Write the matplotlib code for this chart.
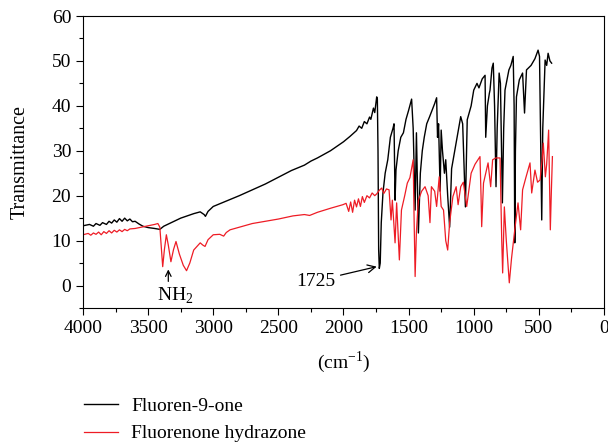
import numpy as np
import matplotlib
matplotlib.use("Agg")
import matplotlib.pyplot as plt
from matplotlib.ticker import MultipleLocator

plt.rcParams['font.family'] = ['Liberation Serif', 'DejaVu Serif']
plt.rcParams['mathtext.fontset'] = 'custom'
plt.rcParams['mathtext.rm'] = 'Liberation Serif'

# Fluoren-9-one (wavenumber, transmittance)
wn_ketone = [4000, 3950, 3920, 3900, 3870, 3850, 3820, 3800, 3780, 3760, 3740, 3720, 3700,
             3680, 3660, 3640, 3620, 3600, 3570, 3540, 3500, 3450, 3410, 3380, 3300, 3250,
             3150, 3100, 3070, 3060, 3040, 3000, 2800, 2600, 2400, 2300, 2250, 2200, 2100,
             2000, 1950, 1900, 1880, 1860, 1840, 1820, 1800, 1790, 1770, 1760, 1745, 1740,
             1735, 1730, 1725, 1718, 1710, 1697, 1680, 1660, 1640, 1620, 1612, 1604, 1597,
             1580, 1560, 1540, 1520, 1500, 1477, 1465, 1450, 1440, 1425, 1410, 1395, 1380,
             1361, 1340, 1320, 1300, 1285, 1278, 1270, 1258, 1250, 1240, 1225, 1215, 1200,
             1185, 1170, 1140, 1100, 1085, 1064, 1050, 1020, 1000, 975, 960, 935, 913, 908,
             895, 880, 875, 860, 850, 840, 829, 820, 805, 795, 780, 770, 760, 730, 715, 697,
             690, 685, 680, 672, 650, 625, 610, 595, 560, 530, 506, 495, 478, 470, 452, 440,
             429, 415, 402]
t_ketone = [13.3, 13.6, 13.2, 13.8, 13.4, 14.0, 13.6, 14.3, 13.9, 14.6, 14.1, 14.9, 14.3,
            15.0, 14.4, 14.8, 14.2, 14.3, 13.7, 13.2, 12.9, 12.7, 12.5, 13.2, 14.3, 15.0,
            16.0, 16.4, 15.8, 15.4, 16.5, 17.6, 20.0, 22.6, 25.6, 26.8, 27.7, 28.4, 30.0,
            32.0, 33.2, 34.5, 35.5, 35.0, 36.5, 36.0, 37.5, 37.0, 39.5, 38.5, 42.0, 41.5,
            30.0, 8.0, 3.8, 5.0, 14.0, 20.6, 25.0, 28.0, 33.0, 35.0, 36.0, 19.0, 25.7,
            30.0, 33.0, 34.0, 37.0, 39.0, 41.5, 35.0, 16.8, 34.0, 11.7, 25.0, 30.0, 33.0,
            36.0, 37.5, 39.0, 40.5, 41.8, 33.0, 36.0, 21.0, 34.6, 30.0, 25.0, 28.0, 20.0,
            13.0, 26.0, 31.0, 37.6, 36.0, 17.5, 36.9, 40.0, 43.5, 45.0, 44.0, 46.0, 46.8, 33.0,
            40.0, 42.8, 43.5, 48.4, 49.5, 40.0, 22.0, 35.0, 47.3, 45.0, 18.4, 35.0, 43.5, 48.0, 49.0, 51.0,
            40.0, 9.5, 30.0, 42.0, 45.8, 47.3, 38.4, 48.0, 49.0, 50.5, 52.4, 51.0, 14.6, 35.0, 50.2, 49.0,
            51.7, 50.0, 49.5]

# Fluorenone hydrazone
wn_hydrazone = [4000, 3960, 3940, 3920, 3900, 3880, 3860, 3840, 3820, 3800, 3780, 3760, 3740,
                3720, 3700, 3680, 3660, 3640, 3600, 3550, 3500, 3450, 3425, 3410, 3400, 3388,
                3375, 3360, 3345, 3325, 3305, 3286, 3260, 3230, 3205, 3180, 3150, 3100, 3080,
                3063, 3040, 3000, 2950, 2920, 2900, 2871, 2700, 2500, 2388, 2300, 2260, 2200,
                2100, 2004, 1980, 1960, 1945, 1930, 1915, 1900, 1885, 1870, 1855, 1840, 1820,
                1800, 1780, 1760, 1745, 1725, 1707, 1690, 1670, 1650, 1635, 1625, 1604, 1592,
                1571, 1555, 1530, 1510, 1490, 1465, 1458, 1450, 1440, 1425, 1400, 1374, 1350,
                1336, 1325, 1300, 1285, 1265, 1250, 1232, 1215, 1200, 1185, 1160, 1135, 1120,
                1100, 1080, 1054, 1020, 990, 952, 944, 939, 925, 890, 870, 855, 830, 798, 785,
                778, 765, 750, 727, 710, 685, 660, 640, 625, 600, 568, 555, 530, 510, 491, 475,
                466, 450, 440, 425, 418, 412, 405, 396]
t_hydrazone = [11.3, 11.6, 11.2, 11.7, 11.4, 11.9, 11.3, 12.0, 11.6, 12.2, 11.7, 12.3, 11.9,
               12.4, 12.0, 12.5, 12.2, 12.6, 12.7, 13.0, 13.3, 13.6, 13.8, 13.0, 9.0, 4.2,
               8.0, 11.3, 9.0, 5.3, 8.0, 9.8, 7.0, 4.5, 3.3, 5.0, 7.9, 9.5, 9.0,
               8.7, 10.2, 11.3, 11.4, 11.0, 11.8, 12.4, 13.8, 14.8, 15.5, 15.8, 15.6, 16.3,
               17.2, 18.0, 18.3, 16.5, 18.6, 16.3, 19.0, 17.5, 19.3, 17.6, 19.8, 18.5, 20.0,
               19.5, 20.6, 20.0, 20.4, 21.2, 21.7, 20.5, 21.5, 21.3, 14.6, 19.0, 9.5, 18.4,
               5.7, 16.8, 20.0, 22.8, 24.0, 28.0, 15.0, 2.0, 12.0, 19.0, 21.0, 22.0, 20.0,
               14.0, 22.0, 21.0, 17.6, 24.2, 17.6, 16.8, 10.0, 7.9, 14.0, 19.8, 22.0, 18.0,
               22.0, 23.0, 17.6, 25.0, 27.0, 28.7, 20.0, 13.1, 22.8, 27.3, 22.0, 28.0, 28.4, 28.4, 10.0,
               2.8, 17.5, 10.0, 0.6, 6.0, 12.4, 18.4, 12.4, 21.3, 24.0, 27.3, 20.6, 25.7, 23.0, 23.5, 28.0,
               31.7, 24.2, 27.0, 34.6, 22.0, 12.4, 20.0, 28.7]

fig = plt.figure(figsize=(6.08, 4.42), dpi=100)
ax = fig.add_axes([0.1365, 0.3032, 0.8569, 0.6606])

l1, = ax.plot(wn_ketone, t_ketone, color='black', lw=1.0, label='Fluoren-9-one')
l2, = ax.plot(wn_hydrazone, t_hydrazone, color='#ee1c25', lw=0.9, label='Fluorenone hydrazone')

ax.set_xlim(4000, 0)
ax.set_ylim(-5, 60)
ax.xaxis.set_major_locator(MultipleLocator(500))
ax.xaxis.set_minor_locator(MultipleLocator(250))
ax.yaxis.set_major_locator(MultipleLocator(10))
ax.yaxis.set_minor_locator(MultipleLocator(5))
ax.tick_params(which='major', direction='out', length=5, width=0.8, labelsize=14)
ax.tick_params(which='minor', direction='out', length=3, width=0.8)
for s in ax.spines.values():
    s.set_linewidth(0.8)

ax.set_ylabel('Transmittance', fontsize=14.5, labelpad=16)
ax.set_xlabel('(cm$^{-1}$)', fontsize=14, labelpad=9)

# annotations
ax.annotate('', xy=(3345, 4.2), xytext=(3345, 0.3),
            arrowprops=dict(arrowstyle='->', color='black', lw=0.9))
ax.text(3430, -2.4, 'NH$_2$', fontsize=14, ha='left', va='center')
ax.annotate('1725', xy=(1745, 4.2), xytext=(2065, 1.0), fontsize=14, ha='right', va='center',
            arrowprops=dict(arrowstyle='->', color='black', lw=0.9, shrinkA=2, shrinkB=0))

fig.legend(handles=[l1, l2], loc='upper left', bbox_to_anchor=(0.1254, 0.1183),
           frameon=False, fontsize=14, handlelength=1.75, handletextpad=0.67,
           labelspacing=0.5, borderaxespad=0)

fig.savefig('out.png', dpi=100)
